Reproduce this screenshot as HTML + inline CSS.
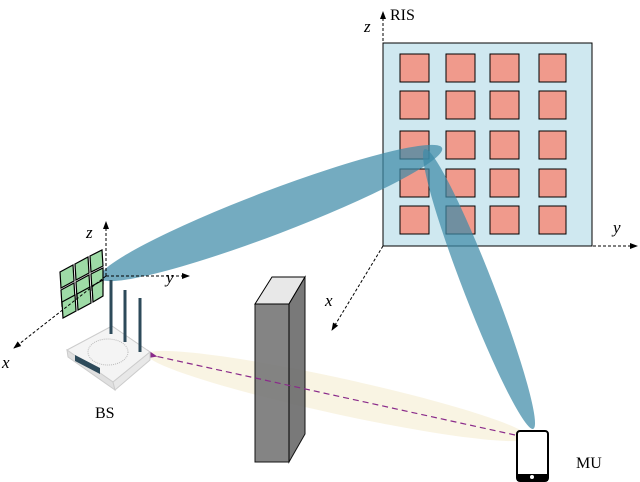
<!DOCTYPE html>
<html><head><style>body{margin:0;background:#fff}svg{display:block}</style></head><body>
<svg width="640" height="482" viewBox="0 0 640 482" font-family="'Liberation Serif', 'DejaVu Serif', serif">
<defs>
<marker id="ah" markerWidth="8" markerHeight="8" refX="7" refY="4" orient="auto"><path d="M0,1 L8,4 L0,7 Z" fill="#000"/></marker>
<marker id="ap" markerWidth="10" markerHeight="8" refX="2" refY="4" orient="auto"><path d="M10,0 L0,4 L10,8 L7,4 Z" fill="#8a2a8a"/></marker>
</defs>
<ellipse cx="338" cy="396" rx="195" ry="18" transform="rotate(12.3 338 396)" fill="#f7f1dc" opacity="0.8"/>
<rect x="383" y="43" width="209" height="203" fill="#cfe8f0" stroke="#000" stroke-width="1"/>
<g fill="#f09a8c" stroke="#000" stroke-width="1">
<rect x="400" y="54" width="29" height="28"/><rect x="446" y="54" width="29" height="28"/><rect x="490" y="54" width="29" height="28"/><rect x="539" y="54" width="27" height="28"/>
<rect x="400" y="91" width="29" height="28"/><rect x="446" y="91" width="29" height="28"/><rect x="490" y="91" width="29" height="28"/><rect x="539" y="91" width="27" height="28"/>
<rect x="400" y="131" width="29" height="28"/><rect x="446" y="131" width="29" height="28"/><rect x="490" y="131" width="29" height="28"/><rect x="539" y="131" width="27" height="28"/>
<rect x="400" y="169" width="29" height="28"/><rect x="446" y="169" width="29" height="28"/><rect x="490" y="169" width="29" height="28"/><rect x="539" y="169" width="27" height="28"/>
<rect x="400" y="206" width="29" height="28"/><rect x="446" y="206" width="29" height="28"/><rect x="490" y="206" width="29" height="28"/><rect x="539" y="206" width="27" height="28"/>
</g>
<g stroke="#000" stroke-width="1" stroke-dasharray="3,2" fill="none">
<line x1="383" y1="246" x2="383" y2="12" marker-end="url(#ah)"/>
<line x1="383" y1="246" x2="637" y2="246" marker-end="url(#ah)"/>
<line x1="383" y1="246" x2="332" y2="330" marker-end="url(#ah)"/>
</g>
<ellipse cx="271" cy="213" rx="183" ry="22" transform="rotate(-20.8 271 213)" fill="#3f8aa8" opacity="0.72"/>
<ellipse cx="479" cy="289" rx="150" ry="15" transform="rotate(68.8 479 289)" fill="#3f8aa8" opacity="0.72"/>
<polygon points="255,304 272,277 305,277 289,304" fill="#e8e8e8" stroke="#000"/>
<polygon points="289,304 305,277 305,434 289,462" fill="#6e6e6e" stroke="#000" opacity="0.92"/>
<rect x="255" y="304" width="34" height="158" fill="#7a7a7a" stroke="#000" opacity="0.92"/>
<line x1="515" y1="435" x2="155" y2="356" stroke="#8a2a8a" stroke-width="1.2" stroke-dasharray="6,4" marker-end="url(#ap)"/>
<g stroke="#000" stroke-width="1.2" fill="#9edba6">
<polygon points="60,272 73,265 74,281 61,288"/><polygon points="75,264 88,257 89,273 76,280"/><polygon points="90,256 102,250 103,266 91,272"/>
<polygon points="61,290 74,283 75,299 62,306"/><polygon points="76,282 89,275 90,291 77,298"/><polygon points="91,274 103,268 103,284 92,290"/>
<polygon points="62,302 75,295 76,311 63,318"/><polygon points="77,294 90,287 91,303 78,310"/><polygon points="92,286 103,280 103,296 93,302"/>
</g>
<g stroke="#000" stroke-width="1" stroke-dasharray="3,2" fill="none">
<line x1="106" y1="276" x2="106" y2="222" marker-end="url(#ah)"/>
<line x1="106" y1="276" x2="189" y2="276" marker-end="url(#ah)"/>
<line x1="106" y1="276" x2="14" y2="348" marker-end="url(#ah)"/>
</g>
<polygon points="67,350 112,326 150,352 113,382" fill="#f4f4f4" stroke="#ccc"/>
<polygon points="67,350 113,382 115,390 68,357" fill="#e0e0e0" stroke="#ccc"/>
<polygon points="113,382 150,352 150,360 115,390" fill="#e8e8e8" stroke="#ccc"/>
<polygon points="75,355 100,368 100,374 75,361" fill="#2d4a5a"/>
<ellipse cx="108" cy="352" rx="20" ry="13" fill="none" stroke="#bbb" stroke-dasharray="1,1"/>
<g stroke="#2d4a5a" stroke-width="3"><line x1="111" y1="280" x2="111" y2="334"/><line x1="125" y1="290" x2="125" y2="342"/><line x1="140" y1="298" x2="140" y2="352"/></g>
<rect x="517" y="431" width="31" height="50" rx="3" fill="#fff" stroke="#000" stroke-width="2"/>
<rect x="517" y="474" width="31" height="7" fill="#000"/>
<circle cx="532" cy="477" r="2" fill="#fff"/>
<g font-style="italic" font-size="17">
<text x="86" y="238">z</text><text x="166" y="283">y</text><text x="2" y="368">x</text>
<text x="364" y="32">z</text><text x="613" y="233">y</text><text x="325" y="306">x</text>
</g>
<text x="95" y="418" font-size="16">BS</text>
<text x="390" y="20" font-size="16">RIS</text>
<text x="576" y="468" font-size="16">MU</text>
</svg>
</body></html>
